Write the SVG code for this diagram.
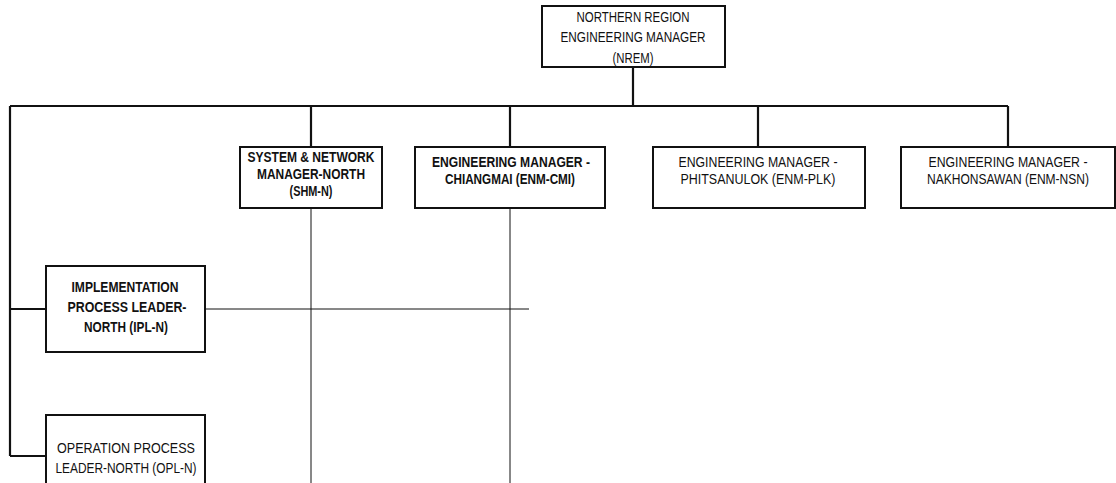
<svg xmlns="http://www.w3.org/2000/svg" width="1116" height="483" viewBox="0 0 1116 483">
<style>
.box{fill:#fff;stroke:#111;stroke-width:2}
.c{fill:none;stroke:#111;stroke-width:2.2}
.t{fill:none;stroke:#111;stroke-width:1}
text{font-family:"Liberation Sans Narrow","Arial Narrow","Liberation Sans",Arial,sans-serif;font-size:14px;fill:#111;text-anchor:middle}
.b{font-weight:bold}
</style>
<rect width="1116" height="483" fill="#fff"/>
<g id="connectors">
<path class="c" d="M633 67V106M10 106H1008M10 106V456M311 106V147M510 106V147M758 106V147M1008 106V147M10 309H46M10 456H46"/>
<path class="t" d="M311 208V483M510 208V483M205 309H529"/>
</g>
<g id="nrem">
<rect class="box" x="542" y="6" width="183" height="61"/>
<text x="633" y="22" textLength="113" lengthAdjust="spacingAndGlyphs">NORTHERN REGION</text>
<text x="633" y="42" textLength="145" lengthAdjust="spacingAndGlyphs">ENGINEERING MANAGER</text>
<text x="633" y="63" textLength="41" lengthAdjust="spacingAndGlyphs">(NREM)</text>
</g>
<g id="shm-n">
<rect class="box" x="240" y="147" width="142" height="61"/>
<text class="b" x="311" y="162" textLength="127" lengthAdjust="spacingAndGlyphs">SYSTEM &amp; NETWORK</text>
<text class="b" x="311" y="179" textLength="108" lengthAdjust="spacingAndGlyphs">MANAGER-NORTH</text>
<text class="b" x="311" y="196" textLength="43" lengthAdjust="spacingAndGlyphs">(SHM-N)</text>
</g>
<g id="enm-cmi">
<rect class="box" x="415" y="147" width="190" height="61"/>
<text class="b" x="511" y="167" textLength="158" lengthAdjust="spacingAndGlyphs">ENGINEERING MANAGER -</text>
<text class="b" x="510" y="184" textLength="130" lengthAdjust="spacingAndGlyphs">CHIANGMAI (ENM-CMI)</text>
</g>
<g id="enm-plk">
<rect class="box" x="653" y="147" width="212" height="61"/>
<text x="758" y="167" textLength="159" lengthAdjust="spacingAndGlyphs">ENGINEERING MANAGER -</text>
<text x="758" y="184" textLength="155" lengthAdjust="spacingAndGlyphs">PHITSANULOK (ENM-PLK)</text>
</g>
<g id="enm-nsn">
<rect class="box" x="901" y="147" width="214" height="61"/>
<text x="1008" y="167" textLength="159" lengthAdjust="spacingAndGlyphs">ENGINEERING MANAGER -</text>
<text x="1008" y="184" textLength="162" lengthAdjust="spacingAndGlyphs">NAKHONSAWAN (ENM-NSN)</text>
</g>
<g id="ipl-n">
<rect class="box" x="46" y="266" width="159" height="86"/>
<text class="b" x="125" y="292" textLength="107" lengthAdjust="spacingAndGlyphs">IMPLEMENTATION</text>
<text class="b" x="127" y="312" textLength="119" lengthAdjust="spacingAndGlyphs">PROCESS LEADER-</text>
<text class="b" x="126" y="332" textLength="84" lengthAdjust="spacingAndGlyphs">NORTH (IPL-N)</text>
</g>
<g id="opl-n">
<rect class="box" x="46" y="415" width="159" height="90"/>
<text x="126" y="453" textLength="138" lengthAdjust="spacingAndGlyphs">OPERATION PROCESS</text>
<text x="126" y="473" textLength="141" lengthAdjust="spacingAndGlyphs">LEADER-NORTH (OPL-N)</text>
</g>
</svg>
